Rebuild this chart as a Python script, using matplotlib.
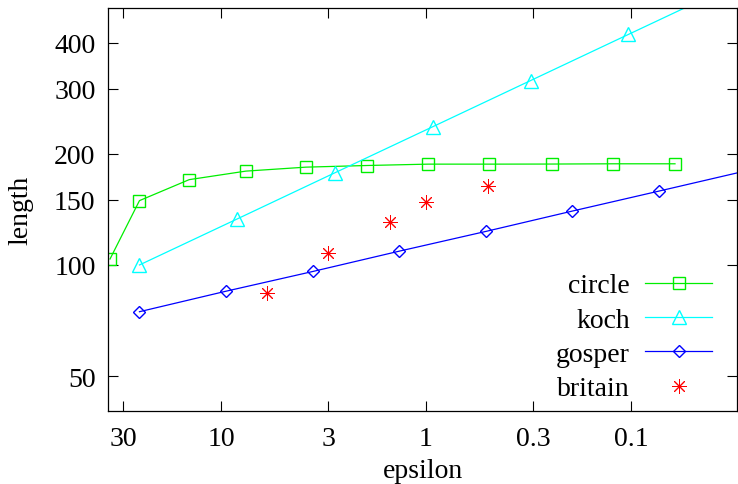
import matplotlib
matplotlib.use("Agg")
import matplotlib.pyplot as plt

# ---- data ----
circle_eps = [34.8, 25.0, 14.3, 7.57, 3.86, 1.95, 0.974, 0.491, 0.244, 0.122, 0.061]
circle_len = [103.8, 149.4, 170.3, 179.6, 184.1, 186.0, 187.6, 187.6, 187.7, 188.0, 188.0]

koch_eps = [25.0, 8.33, 2.78, 0.926, 0.309, 0.103, 0.0343]
koch_len = [100.0, 133.3, 177.8, 237.0, 316.0, 421.4, 561.9]

gosper_eps = [25.0, 9.45, 3.57, 1.35, 0.510, 0.193, 0.0729, 0.0276]
gosper_len = [74.7, 84.9, 96.0, 109.0, 123.3, 140.0, 158.6, 179.8]

britain_eps = [6.0, 3.0, 1.5, 1.0, 0.5]
britain_len = [84.0, 108.0, 131.0, 148.0, 164.0]

xticks = [30, 10, 3, 1, 0.3, 0.1]
xtick_labels = ["30", "10", "3", "1", "0.3", "0.1"]
yticks = [50, 100, 150, 200, 300, 400]
ytick_labels = ["50", "100", "150", "200", "300", "400"]

plt.rcParams["font.family"] = ["Liberation Serif", "DejaVu Serif"]
FS = 20

fig = plt.figure(figsize=(7.38, 4.85), dpi=100)
ax = fig.add_axes([108 / 738, (485 - 412) / 485, 629 / 738, 403 / 485])

lw = 0.9
ax.plot(circle_eps, circle_len, color="#00ee00", lw=lw, marker="s", ms=9,
        mfc="none", mec="#00ee00", mew=1.0, label="circle")
ax.plot(koch_eps, koch_len, color="#00ffff", lw=lw, marker="^", ms=10.5,
        mfc="none", mec="#00ffff", mew=1.0, label="koch")
ax.plot(gosper_eps, gosper_len, color="#0000ff", lw=lw, marker="D", ms=6.5,
        mfc="none", mec="#0000ff", mew=1.0, label="gosper")
ax.plot(britain_eps, britain_len, color="#ff0000", lw=0, marker=(8, 2, 0),
        ms=10.5, mew=0.7, linestyle="none", label="britain")

ax.set_xscale("log")
ax.set_yscale("log")
ax.set_xlim(35.6, 0.0304)
ax.set_ylim(40.2, 497)
ax.minorticks_off()
ax.set_xticks(xticks, labels=xtick_labels)
ax.set_yticks(yticks, labels=ytick_labels)
ax.minorticks_off()
ax.tick_params(which="both", direction="in", top=True, right=True,
               length=7.5, width=0.8, labelsize=FS, color="black")
ax.tick_params(axis="x", pad=10.5)
ax.tick_params(axis="y", pad=9)
for s in ax.spines.values():
    s.set_linewidth(0.9)
    s.set_color("black")

ax.set_xlabel("epsilon", fontsize=FS, labelpad=5)
ax.set_ylabel("length", fontsize=FS, labelpad=15)

leg = ax.legend(loc="upper right", bbox_to_anchor=((712 - 108) / 629, (412 - 274) / 403),
                frameon=False, fontsize=FS, markerfirst=False, handlelength=2.4,
                handletextpad=0.55, labelspacing=0.32, borderpad=0, borderaxespad=0,
                numpoints=1)

fig.savefig("out.png", dpi=100)
